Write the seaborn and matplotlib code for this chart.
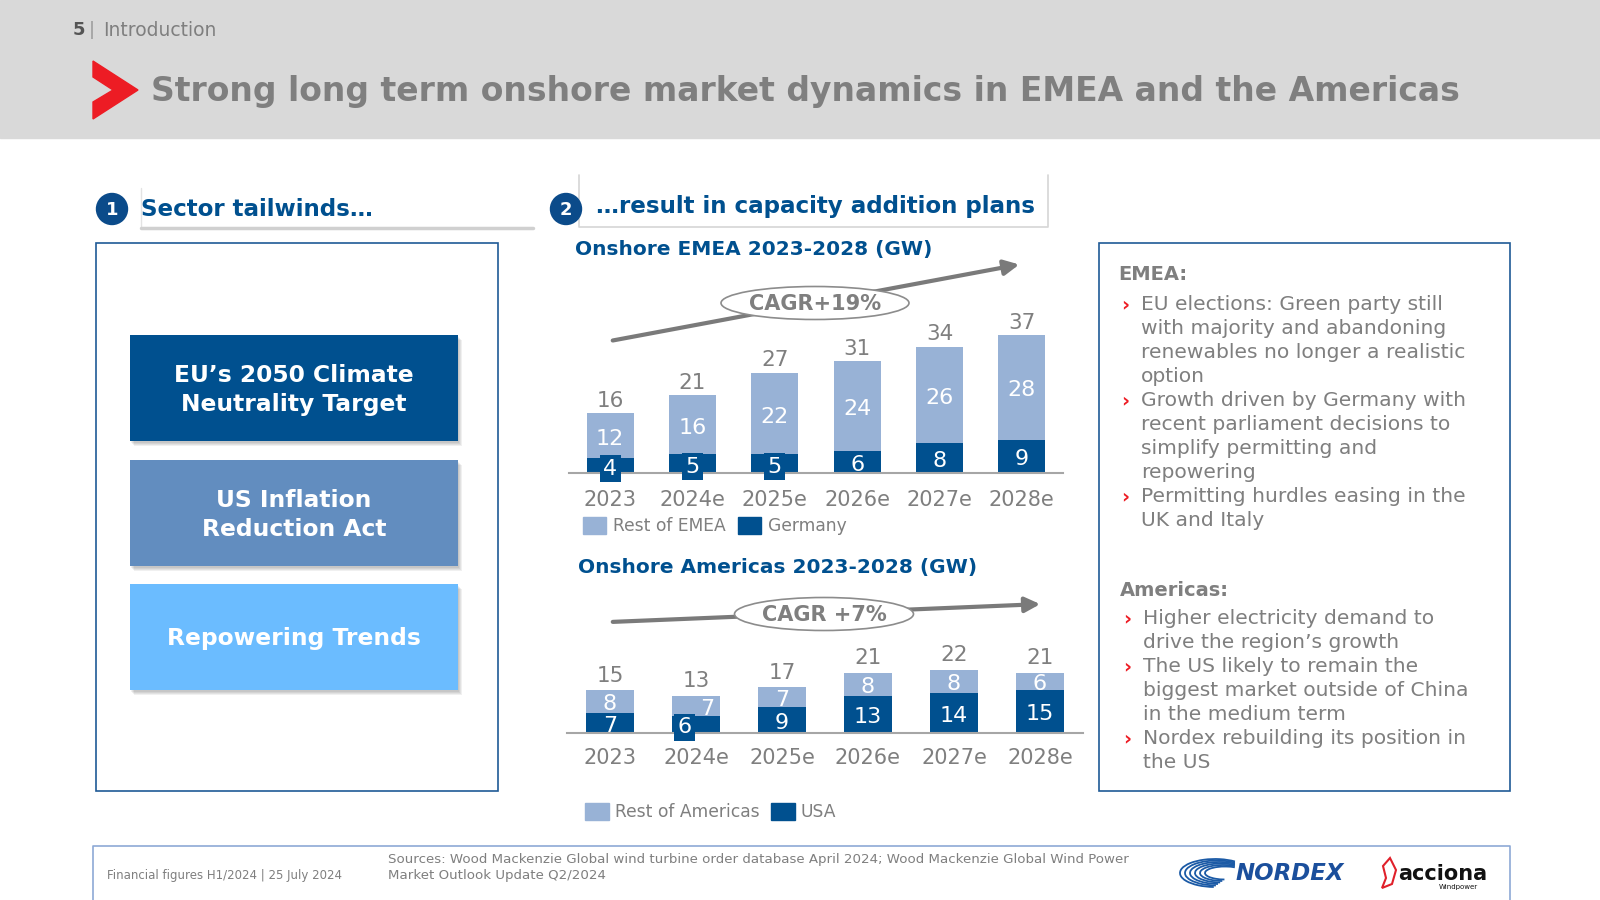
import matplotlib
matplotlib.use("Agg")
import matplotlib.pyplot as plt
import seaborn as sns
import pandas as pd
from matplotlib.patches import Rectangle, Polygon, Ellipse, Circle, FancyArrowPatch, Arc

# ---------------- data ----------------
years = ["2023", "2024e", "2025e", "2026e", "2027e", "2028e"]
emea_germany = [4, 5, 5, 6, 8, 9]
emea_rest = [12, 16, 22, 24, 26, 28]
emea_total = [16, 21, 27, 31, 34, 37]
am_usa = [7, 6, 9, 13, 14, 15]
am_rest = [8, 7, 7, 8, 8, 6]
am_total = [15, 13, 17, 21, 22, 21]
emea_legend = ["Rest of EMEA", "Germany"]
am_legend = ["Rest of Americas", "USA"]
emea_cagr = "CAGR+19%"
am_cagr = "CAGR +7%"
tailwinds = ["EU\u2019s 2050 Climate\nNeutrality Target", "US Inflation\nReduction Act", "Repowering Trends"]
emea_points = [["EU elections: Green party still", "with majority and abandoning",
                "renewables no longer a realistic", "option"],
               ["Growth driven by Germany with", "recent parliament decisions to",
                "simplify permitting and", "repowering"],
               ["Permitting hurdles easing in the", "UK and Italy"]]
am_points = [["Higher electricity demand to", "drive the region\u2019s growth"],
             ["The US likely to remain the", "biggest market outside of China",
              "in the medium term"],
             ["Nordex rebuilding its position in", "the US"]]

# ---------------- style ----------------
sns.set_theme(style="white")
plt.rcParams["font.family"] = ["DejaVu Sans"]

DARK = "#00508f"
LIGHT = "#98b2d6"
GRAY = "#7f7f7f"
W, H = 1600, 900

fig = plt.figure(figsize=(16, 9), dpi=100)
bg = fig.add_axes([0, 0, 1, 1])
bg.set_xlim(0, W)
bg.set_ylim(H, 0)
bg.axis("off")

# header
bg.add_patch(Rectangle((0, 0), W, 138, color="#d9d9d9", zorder=0))
bg.text(73, 30, "5", fontsize=13, fontweight="bold", color="#555555", va="center")
bg.text(89, 30, "|", fontsize=13, color="#999999", va="center")
bg.text(103, 30, "Introduction", fontsize=13.5, color=GRAY, va="center")
bg.add_patch(Polygon([(93, 61), (138, 90), (93, 119), (93, 102), (113, 90), (93, 77)],
                     closed=True, color="#ed1c24", zorder=2))
bg.text(151, 92, "Strong long term onshore market dynamics in EMEA and the Americas",
        fontsize=23.8, fontweight="bold", color=GRAY, va="center")

# section headers
def badge(x, y, n):
    bg.add_patch(Circle((x, y), 15.5, color="#0b4b8a", zorder=3))
    bg.text(x, y + 1, n, fontsize=13, fontweight="bold", color="white",
            ha="center", va="center", zorder=4)

badge(112, 209, "1")
bg.plot([141, 141], [188, 228], color="#e3e3e3", lw=1)
bg.plot([141, 533], [228, 228], color="#d0d0d0", lw=2.5)
bg.text(141, 209, "Sector tailwinds\u2026", fontsize=16.6, fontweight="bold", color=DARK, va="center")

badge(566, 209, "2")
bg.plot([579, 579, 1048, 1048], [175, 227, 227, 175], color="#d6d6d6", lw=1.2)
bg.text(596, 207, "\u2026result in capacity addition plans", fontsize=16.6, fontweight="bold",
        color=DARK, va="center")

# left box
bg.add_patch(Rectangle((96, 243), 402, 548, fill=False, ec="#1f5a96", lw=1.2))
box_colors = [DARK, "#628dbf", "#6bbcff"]
box_tops = [335, 460, 584]
for txt, col, top in zip(tailwinds, box_colors, box_tops):
    for k in range(4):
        bg.add_patch(Rectangle((130 + 1 + k, top + 2 + k), 328, 106,
                               color="#000000", alpha=0.06, zorder=1, lw=0))
    bg.add_patch(Rectangle((130, top), 328, 106, color=col, zorder=2, lw=0))
    bg.text(294, top + 55, txt, fontsize=16.8, fontweight="bold", color="white",
            ha="center", va="center", linespacing=1.3, zorder=3)

# right box
bg.add_patch(Rectangle((1099, 243), 411, 548, fill=False, ec="#1f5a96", lw=1.2))
bg.text(1118, 275, "EMEA:", fontsize=14, fontweight="bold", color=GRAY, va="center")
y = 305
for pt in emea_points:
    bg.text(1121, y, "\u203a", fontsize=14, color="#ed1c24", va="center", fontweight="bold")
    for line in pt:
        bg.text(1141, y, line, fontsize=14.6, color=GRAY, va="center")
        y += 24
bg.text(1120, 590, "Americas:", fontsize=14, fontweight="bold", color=GRAY, va="center")
y = 619
for pt in am_points:
    bg.text(1123, y, "\u203a", fontsize=14, color="#ed1c24", va="center", fontweight="bold")
    for line in pt:
        bg.text(1143, y, line, fontsize=14.6, color=GRAY, va="center")
        y += 24

# footer
bg.plot([93, 93, 1510, 1510], [900, 846, 846, 900], color="#8da9d6", lw=1.2)
bg.text(107, 876, "Financial figures H1/2024 | 25 July 2024", fontsize=8.5, color=GRAY, va="center")
bg.text(388, 860, "Sources: Wood Mackenzie Global wind turbine order database April 2024; Wood Mackenzie Global Wind Power",
        fontsize=9.6, color=GRAY, va="center")
bg.text(388, 876, "Market Outlook Update Q2/2024", fontsize=9.6, color=GRAY, va="center")
# logos (approximate)
for k in range(6):
    bg.add_patch(Arc((1215 + k * 2, 873), 70 - k * 6, 28 - k * 3, theta1=95, theta2=330,
                     color="#1b5aa6", lw=1.3))
bg.text(1236, 874, "NORDEX", fontsize=16.5, fontweight="heavy", fontstyle="italic",
        color="#1b4f9c", va="center")
bg.add_patch(Polygon([(1390, 858), (1383, 866), (1386, 878), (1382, 888), (1392, 884), (1396, 870)],
                     closed=True, fill=False, ec="#e0202a", lw=1.5))
bg.text(1398, 874, "acciona", fontsize=15, fontweight="bold", color="#111111", va="center")
bg.text(1478, 887, "Windpower", fontsize=5, color="#111111", va="center", ha="right")

# ---------------- charts ----------------
def fpos(x0, x1, ybase, ytop):
    return [x0 / W, (H - ybase) / H, (x1 - x0) / W, (ybase - ytop) / H]

def stacked(ax, base, rest, total, bw, small_box, offsets, ymax, top_off, pad):
    df = pd.DataFrame({"year": years, "stack": [b + r for b, r in zip(base, rest)], "base": base})
    sns.barplot(data=df, x="year", y="stack", color=LIGHT, width=bw, ax=ax,
                saturation=1, edgecolor="none")
    sns.barplot(data=df, x="year", y="base", color=DARK, width=bw, ax=ax,
                saturation=1, edgecolor="none")
    for i, (b, r, t) in enumerate(zip(base, rest, total)):
        ob, orr = offsets.get(i, (0, 0))
        kw = {}
        if b <= small_box:
            kw["bbox"] = dict(boxstyle="square,pad=0.15", fc=DARK, ec="none")
        ax.annotate(str(b), (i + ob, b / 2), xytext=(0, -2.2), textcoords="offset points",
                    ha="center", va="center", fontsize=16, color="white", **kw)
        ax.annotate(str(r), (i + orr, b + r / 2), xytext=(0, -2.2), textcoords="offset points",
                    ha="center", va="center", fontsize=16, color="white")
        ax.annotate(str(t), (i, b + r), xytext=(0, top_off), textcoords="offset points",
                    ha="center", va="bottom", fontsize=15.5, color=GRAY)
    ax.set_xlabel("")
    ax.set_ylabel("")
    ax.set_yticks([])
    for s in ["top", "left", "right"]:
        ax.spines[s].set_visible(False)
    ax.spines["bottom"].set_color("#a6a6a6")
    ax.spines["bottom"].set_linewidth(1.5)
    ax.tick_params(axis="x", length=0, labelsize=15, labelcolor=GRAY, pad=pad)
    ax.set_xlim(-0.5, 5.5)
    ax.set_ylim(0, ymax)
    ax.patch.set_alpha(0)

# EMEA
bg.text(575, 250, "Onshore EMEA 2023-2028 (GW)", fontsize=14.5, fontweight="bold", color=DARK, va="center")
ax1 = fig.add_axes(fpos(569, 1063, 473, 473 - 45 * 3.72))
stacked(ax1, emea_germany, emea_rest, emea_total, 0.57, 5, {}, 45, 1.5, 12)

bg.add_patch(FancyArrowPatch((610, 341), (1022, 264), arrowstyle="-|>,head_length=9,head_width=4.5",
                             color="#7a7a7a", lw=3, mutation_scale=1, zorder=3))
bg.add_patch(Ellipse((815, 303), 188, 33, fc="white", ec="#8c8c8c", lw=1.2, zorder=4))
bg.text(815, 304, emea_cagr, fontsize=15, fontweight="bold", color=GRAY, ha="center",
        va="center", zorder=5)

bg.add_patch(Rectangle((583, 517), 23, 17, color=LIGHT))
bg.text(613, 526, emea_legend[0], fontsize=12.3, color=GRAY, va="center")
bg.add_patch(Rectangle((738, 517), 23, 17, color=DARK))
bg.text(768, 526, emea_legend[1], fontsize=12.3, color=GRAY, va="center")

# Americas
bg.text(578, 568, "Onshore Americas 2023-2028 (GW)", fontsize=14.5, fontweight="bold", color=DARK, va="center")
ax2 = fig.add_axes(fpos(567, 1083, 733, 733 - 30 * 2.88))
stacked(ax2, am_usa, am_rest, am_total, 0.55, 6, {1: (-0.13, 0.13)}, 30, 3, 11)

bg.add_patch(FancyArrowPatch((610, 622), (1043, 604), arrowstyle="-|>,head_length=9,head_width=4.5",
                             color="#7a7a7a", lw=3, mutation_scale=1, zorder=3))
bg.add_patch(Ellipse((824, 614), 179, 33, fc="white", ec="#8c8c8c", lw=1.2, zorder=4))
bg.text(824, 615, am_cagr, fontsize=15, fontweight="bold", color=GRAY, ha="center",
        va="center", zorder=5)

bg.add_patch(Rectangle((585, 803), 24, 17, color=LIGHT))
bg.text(615, 812, am_legend[0], fontsize=12.3, color=GRAY, va="center")
bg.add_patch(Rectangle((771, 803), 24, 17, color=DARK))
bg.text(801, 812, am_legend[1], fontsize=12.3, color=GRAY, va="center")

fig.savefig("out.png", dpi=100)
